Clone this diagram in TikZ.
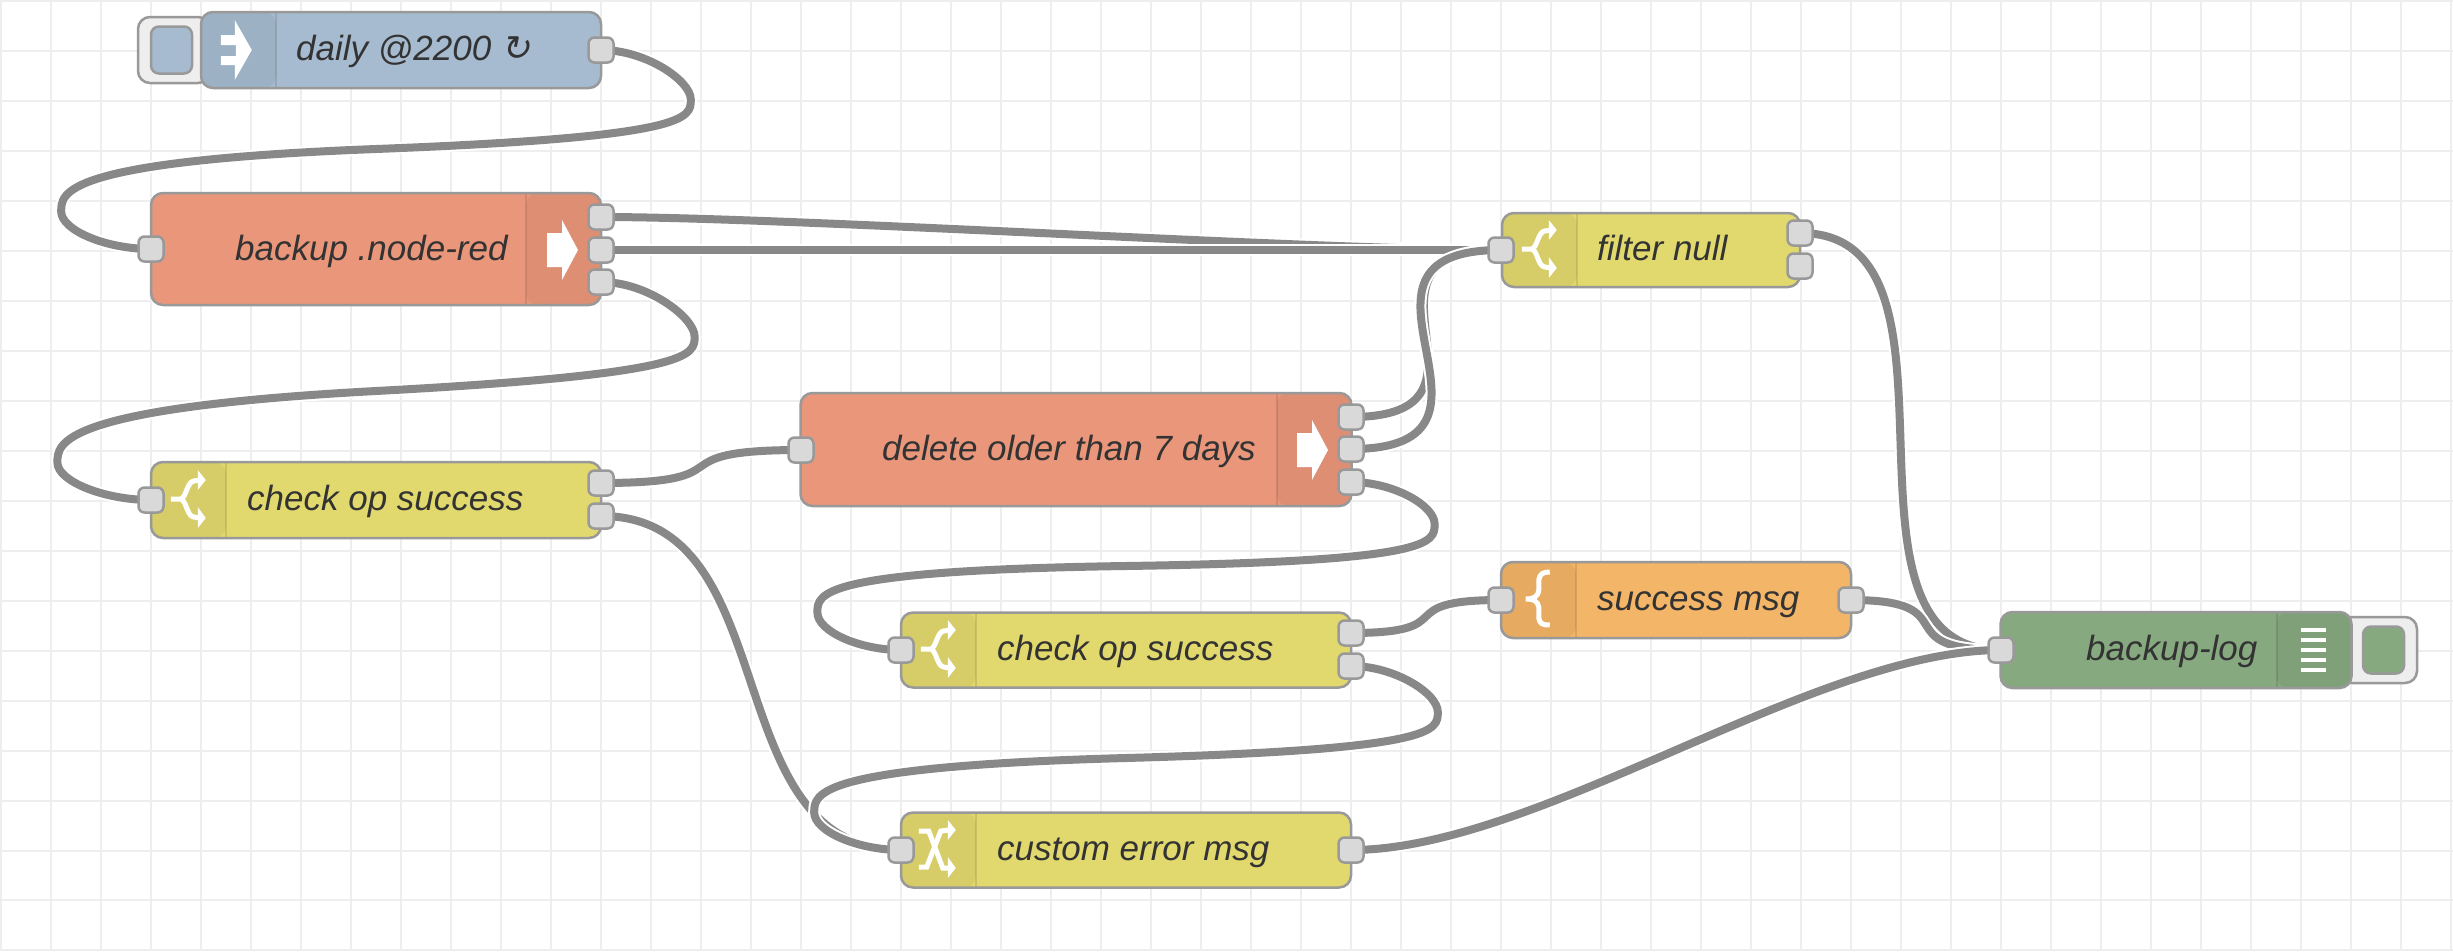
\documentclass[tikz,border=0pt]{standalone}
\usepackage{fontspec}
\setmainfont{Liberation Sans}
\newfontfamily\arrowfont{DejaVu Sans ExtraLight}[FakeSlant=0.2]
\usetikzlibrary{backgrounds}
\definecolor{nrborder}{HTML}{999999}
\definecolor{nrport}{HTML}{D9D9D9}
\definecolor{nrwire}{HTML}{888888}
\definecolor{nrgrid}{HTML}{EEEEEE}
\definecolor{nrtext}{HTML}{333333}
\definecolor{nrblue}{HTML}{A6BBCF}
\definecolor{nrsalmon}{HTML}{E9967A}
\definecolor{nryellow}{HTML}{E2D96E}
\definecolor{nrorange}{HTML}{F3B567}
\definecolor{nrgreen}{HTML}{87A980}
\tikzset{
	nrbox/.style={draw=nrborder,fill=#1,line width=2.5pt,rounded corners=12pt,inner sep=0pt},
	iconleft/.style={path picture={
		\fill[black,opacity=.05] (path picture bounding box.south west) rectangle ([xshift=75pt]path picture bounding box.north west);
		\draw[black,opacity=.1,line width=2pt] ([xshift=75pt]path picture bounding box.south west) -- ([xshift=75pt]path picture bounding box.north west);}},
	iconright/.style={path picture={
		\fill[black,opacity=.05] (path picture bounding box.south east) rectangle ([xshift=-75pt]path picture bounding box.north east);
		\draw[black,opacity=.1,line width=2pt] ([xshift=-75pt]path picture bounding box.south east) -- ([xshift=-75pt]path picture bounding box.north east);}},
	btn/.style={draw=nrborder,fill=nrgrid,line width=2.5pt,rounded corners=12pt,inner sep=0pt,minimum width=#1,minimum height=66pt},
	btninner/.style={draw=nrborder,fill=#1,line width=2.5pt,rounded corners=8pt,inner sep=0pt,minimum width=41pt,minimum height=47pt},
	port/.style={draw=nrborder,fill=nrport,line width=2.5pt,rounded corners=6pt,inner sep=0pt,minimum size=25pt},
	lbl/.style={anchor=base west,inner sep=0pt,text=nrtext,font=\fontsize{35}{40}\selectfont\itshape},
	wire/.style={draw=nrwire,line width=8pt,preaction={draw=white,line width=12pt}},
	gridline/.style={draw=nrgrid,line width=2pt},
	iconline/.style={draw=white,line width=5pt},
	pics/arrowicon/.style={code={
		\fill[white] (-15,-17) -- (0,-17) -- (0,-30) -- (16,0) -- (0,30) -- (0,17) -- (-15,17) -- cycle;}},
	pics/injecticon/.style={code={
		\fill[white] (21,-15) -- (35,-15) -- (35,-30) -- (52,0) -- (35,30) -- (35,15) -- (21,15) -- (21,6) -- (36,6) -- (36,-5) -- (21,-5) -- cycle;}},
	pics/switchicon/.style={code={
		\draw[iconline] (21,-1) -- (31,-1) .. controls (37,-3) and (37,-18) .. (44,-19) -- (50,-20);
		\draw[iconline] (31,-1) .. controls (37,1) and (37,16) .. (44,17) -- (50,18);
		\fill[white] (48,-30) -- (56,-20) -- (48,-10) -- cycle;
		\fill[white] (48,7) -- (56,18) -- (48,28) -- cycle;}},
	pics/changeicon/.style={code={
		\draw[iconline] (19,-19) -- (29,-19) -- (43,18) -- (50,18);
		\draw[iconline] (19,17) -- (27,17) -- (41,-19) -- (50,-20);
		\fill[white] (48,-30) -- (56,-20) -- (48,-10) -- cycle;
		\fill[white] (48,7) -- (56,18) -- (48,28) -- cycle;}},
	pics/templateicon/.style={code={
		\draw[iconline] (50,-28) .. controls (43,-28) and (40,-26) .. (39,-20) -- (39,-10) .. controls (38,-3) and (34,-1) .. (26,-1)
			.. controls (34,-1) and (38,1) .. (39,7) -- (39,18) .. controls (40,24) and (43,25) .. (50,25);}},
	pics/debugicon/.style={code={
		\foreach \yy in {-20,-10,0,10,20}
			\fill[white] (0,\yy-2) rectangle (25,\yy+2);}}
}
\begin{document}
\begin{tikzpicture}[x=1pt,y=-1pt]
	\useasboundingbox (0,0) rectangle (2453,951);
	% buttons
	\node[btn=72pt] (injbtn) at (174,50) {};
	\node[btninner=nrblue] (injbtnin) at (171.5,50) {};
	\node[btn=77pt] (logbtn) at (2378.5,650) {};
	\node[btninner=nrgreen] (logbtnin) at (2383.5,650) {};
	% nodes
	\node[nrbox=nrblue,iconleft,minimum width=400pt,minimum height=76pt] (inj) at (401,50) {};
	\node[nrbox=nrsalmon,iconright,minimum width=450pt,minimum height=112pt] (bak) at (376,249) {};
	\node[nrbox=nryellow,iconleft,minimum width=298pt,minimum height=74pt] (flt) at (1651,250) {};
	\node[nrbox=nrsalmon,iconright,minimum width=551pt,minimum height=113pt] (del) at (1076,449.5) {};
	\node[nrbox=nryellow,iconleft,minimum width=450pt,minimum height=76pt] (chka) at (376,500) {};
	\node[nrbox=nryellow,iconleft,minimum width=450pt,minimum height=75pt] (chkb) at (1126,650) {};
	\node[nrbox=nrorange,iconleft,minimum width=350pt,minimum height=76pt] (suc) at (1676,600) {};
	\node[nrbox=nryellow,iconleft,minimum width=450pt,minimum height=75pt] (err) at (1126,850) {};
	\node[nrbox=nrgreen,iconright,minimum width=351pt,minimum height=76pt] (log) at (2176,650) {};
	% icons
	\pic at (inj.west) {injecticon};
	\pic at (562,250) {arrowicon};
	\pic at (flt.west) {switchicon};
	\pic at (1312,450) {arrowicon};
	\pic at (chka.west) {switchicon};
	\pic at (chkb.west) {switchicon};
	\pic at (suc.west) {templateicon};
	\pic at (err.west) {changeicon};
	\pic at (2301,650) {debugicon};
	% labels
	\node[lbl] (injlbl) at (296,60.5) {daily @2200 {\arrowfont ↻}};
	\node[lbl] (baklbl) at (235,260.5) {backup .node-red};
	\node[lbl] (fltlbl) at (1597,260.5) {filter null};
	\node[lbl] (dellbl) at (882,460.5) {delete older than 7 days};
	\node[lbl] (chkalbl) at (247,510.5) {check op success};
	\node[lbl] (chkblbl) at (997,660.5) {check op success};
	\node[lbl] (suclbl) at (1597,610.5) {success msg};
	\node[lbl] (errlbl) at (997,860.5) {custom error msg};
	\node[lbl] (loglbl) at (2086,660.5) {backup-log};
	% ports
	\node[port] (injout) at (601,50) {};
	\node[port] (bakin) at (151,249) {};
	\node[port] (bakouta) at (601,217) {};
	\node[port] (bakoutb) at (601,250) {};
	\node[port] (bakoutc) at (601,282) {};
	\node[port] (fltin) at (1501,250) {};
	\node[port] (fltouta) at (1800,233) {};
	\node[port] (fltoutb) at (1800,266) {};
	\node[port] (delin) at (801,450) {};
	\node[port] (delouta) at (1351,417) {};
	\node[port] (deloutb) at (1351,449) {};
	\node[port] (deloutc) at (1351,482) {};
	\node[port] (chkain) at (151,500) {};
	\node[port] (chkaouta) at (601,483) {};
	\node[port] (chkaoutb) at (601,516) {};
	\node[port] (chkbin) at (901,650) {};
	\node[port] (chkbouta) at (1351,633) {};
	\node[port] (chkboutb) at (1351,666) {};
	\node[port] (sucin) at (1501,600) {};
	\node[port] (sucout) at (1851,600) {};
	\node[port] (errin) at (901,850) {};
	\node[port] (errout) at (1351,850) {};
	\node[port] (login) at (2001,650) {};
	\begin{pgfonlayer}{background}
		\fill[white] (0,0) rectangle (2453,951);
		\foreach \xx in {0,...,49}
			\draw[gridline] (1+50*\xx,0) -- (1+50*\xx,951);
		\foreach \yy in {0,...,19}
			\draw[gridline] (0,1+49.97*\yy) -- (2453,1+49.97*\yy);
		% wires
		\draw[wire] (bakouta.center) .. controls (788.5,217) and (1313.5,250) .. (fltin.center);
		\draw[wire] (bakoutb.center) -- (fltin.center);
		\draw[wire] (delouta.center) .. controls (1519.4,417) and (1332.6,250) .. (fltin.center);
		\draw[wire] (deloutb.center) .. controls (1538,449) and (1314,250) .. (fltin.center);
		\draw[wire] (injout.center) .. controls (646,50) and (690.8,80.75) .. (690.8,99.5)
			.. controls (690.8,118.25) and (690.8,137) .. (376,149)
			.. controls (61.2,161) and (61.2,192.75) .. (61.2,211.5)
			.. controls (61.2,230.25) and (106,249) .. (bakin.center);
		\draw[wire] (bakoutc.center) .. controls (647.8,282) and (694.6,317.75) .. (694.6,336.5)
			.. controls (694.6,355.25) and (694.6,374) .. (376,391)
			.. controls (57.4,408) and (57.4,443.75) .. (57.4,462.5)
			.. controls (57.4,481.25) and (104.2,500) .. (chkain.center);
		\draw[wire] (chkaouta.center) .. controls (753,483) and (649,450) .. (delin.center);
		\draw[wire] (chkaoutb.center) .. controls (788.5,516) and (713.5,850) .. (errin.center);
		\draw[wire] (deloutc.center) .. controls (1392.8,482) and (1434.6,505.25) .. (1434.6,524)
			.. controls (1434.6,542.75) and (1434.6,561.5) .. (1126,566)
			.. controls (817.4,570.5) and (817.4,593.75) .. (817.4,612.5)
			.. controls (817.4,631.25) and (859.2,650) .. (chkbin.center);
		\draw[wire] (chkboutb.center) .. controls (1394.4,666) and (1437.8,693.25) .. (1437.8,712)
			.. controls (1437.8,730.75) and (1437.8,749.5) .. (1126,758)
			.. controls (814.2,766.5) and (814.2,793.75) .. (814.2,812.5)
			.. controls (814.2,831.25) and (857.6,850) .. (errin.center);
		\draw[wire] (chkbouta.center) .. controls (1466,633) and (1386,600) .. (sucin.center);
		\draw[wire] (fltouta.center) .. controls (1987.5,233) and (1813.5,650) .. (login.center);
		\draw[wire] (sucout.center) .. controls (1969.5,600) and (1882.5,650) .. (login.center);
		\draw[wire] (errout.center) .. controls (1538.5,850) and (1813.5,650) .. (login.center);
	\end{pgfonlayer}
\end{tikzpicture}
\end{document}
